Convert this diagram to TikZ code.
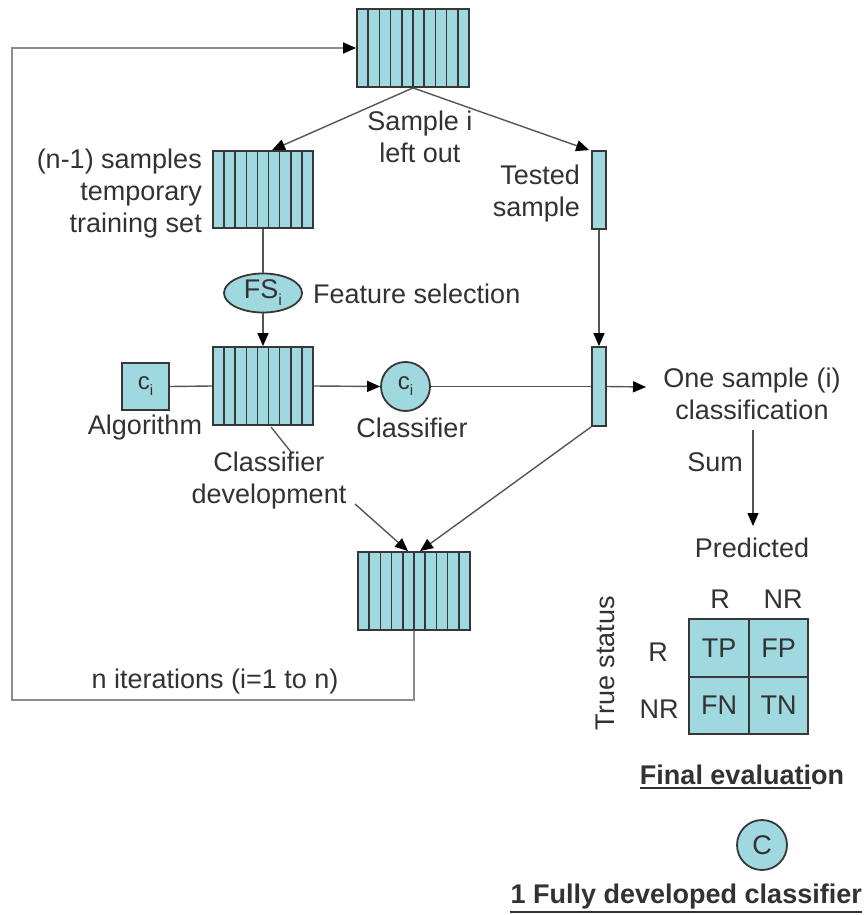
\documentclass[tikz,border=0pt]{standalone}
\usepackage{fontspec}
\setmainfont{Liberation Sans}
\usetikzlibrary{calc,arrows.meta,shapes.geometric}
\definecolor{cyanf}{RGB}{160,216,224}
\definecolor{boxc}{RGB}{55,55,55}
\definecolor{linec}{RGB}{85,85,85}
\definecolor{loopc}{RGB}{140,140,140}
\definecolor{txtc}{RGB}{50,50,50}
\newcommand{\fsz}{\fontsize{27}{32}\selectfont}
\begin{document}
\begin{tikzpicture}[x=1pt,y=-1pt,
  box/.style={draw=boxc,line width=1.8pt,fill=cyanf,inner sep=0pt,rectangle},
  stripes/.style={path picture={
    \pgfmathtruncatemacro\nm{#1-1}
    \foreach \k in {1,...,\nm}{
      \draw[boxc,line width=1.6pt]
        ($(path picture bounding box.south west)!{\k/#1}!(path picture bounding box.south east)$) --
        ($(path picture bounding box.north west)!{\k/#1}!(path picture bounding box.north east)$);}}},
  conn/.style={draw=linec,line width=1.4pt},
  tip/.style={-{Triangle[length=13pt,width=11pt,color=black]}},
  arr/.style={conn,tip},
  lbl/.style={text=txtc,font=\fsz,align=center,inner sep=0pt},
  bold/.style={lbl,font=\fsz\bfseries}]
\useasboundingbox (0,0) rectangle (863,915);

% boxes
\node[box,stripes=10,minimum width=112pt,minimum height=78pt] (top) at (413,48) {};
\node[box,stripes=9,minimum width=100pt,minimum height=77pt] (train) at (263,189.5) {};
\node[box,minimum width=14pt,minimum height=78pt] (test1) at (599,190) {};
\node[box,ellipse,minimum width=78pt,minimum height=39pt,font=\fontsize{27}{27}\selectfont,text=txtc] (fs) at (263,293) {FS\raisebox{-7pt}{\fontsize{16}{16}\selectfont i}};
\node[box,stripes=9,minimum width=100pt,minimum height=78pt] (dev) at (263,386) {};
\node[box,minimum width=47pt,minimum height=47pt,font=\fontsize{24}{24}\selectfont,text=txtc] (algo) at (145.5,386.5) {c\raisebox{-6pt}{\fontsize{15}{15}\selectfont i}};
\node[box,circle,minimum size=49pt,font=\fontsize{24}{24}\selectfont,text=txtc] (clf) at (405.5,386.5) {c\raisebox{-6pt}{\fontsize{15}{15}\selectfont i}};
\node[box,minimum width=14pt,minimum height=79pt] (test2) at (599,386.5) {};
\node[box,stripes=10,minimum width=112pt,minimum height=78pt] (bot) at (414,591) {};

% confusion matrix
\node[box,minimum width=60pt,minimum height=58pt,lbl] (tp) at (719,648) {TP};
\node[box,minimum width=59pt,minimum height=58pt,lbl] (fp) at (778.5,648) {FP};
\node[box,minimum width=60pt,minimum height=57pt,lbl] (fn) at (719,705.5) {FN};
\node[box,minimum width=59pt,minimum height=57pt,lbl] (tn) at (778.5,705.5) {TN};

\node[box,circle,minimum size=50pt,lbl] (cc) at (762,845) {C};

% coordinates
\coordinate (lb) at (12,700);
\coordinate (outc) at (646,387);
\coordinate (sumtop) at (753,430);
\coordinate (sumbot) at (753,526);
\coordinate (devl1) at (271,427);
\coordinate (devl2) at (291,452);
\coordinate (devt) at (355,504);

% connectors
\draw[conn,draw=loopc,line width=1.8pt,tip] (bot.south) |- (lb) |- (top.west);
\draw[arr] (top.south) -- ([xshift=9pt]train.north);
\draw[arr] (top.south) -- ([xshift=-2pt]test1.north west);
\draw[conn] (train.south) -- (fs.north);
\draw[arr] (fs.south) -- (dev.north);
\draw[conn] (algo.east) -- (dev.west);
\draw[arr] (dev.east) -- (clf.west);
\draw[conn] (clf.east) -- (test2.west);
\draw[arr] (test2.east) -- (outc);
\draw[arr] (test1.south) -- (test2.north);
\draw[arr] (test2.south west) -- ([xshift=6pt]bot.north);
\draw[arr] (devt) -- ([xshift=-6pt]bot.north);
\draw[conn] (devl1) -- (devl2);
\draw[arr] (sumtop) -- (sumbot);

% labels
\node[lbl] (lsample) at (420,137) {Sample i\\left out};
\node[lbl,anchor=east,align=right] (ltrain) at (202,194) {(n-1) samples\\temporary\\training set};
\node[lbl,anchor=east,align=right] (ltest) at (580,194) {Tested\\sample};
\node[lbl,anchor=west] (lfs) at (313,294) {Feature selection};
\node[lbl] (lalgo) at (145,428) {Algorithm};
\node[lbl] (lclf) at (412,428) {Classifier};
\node[lbl] (ldev) at (269,481) {Classifier\\development};
\node[lbl] (lone) at (752,394) {One sample (i)\\classification};
\node[lbl] (lsum) at (715,462) {Sum};
\node[lbl] (lpred) at (752,548) {Predicted};
\node[lbl] (lr1) at (720,599) {R};
\node[lbl] (lnr1) at (783,599) {NR};
\node[lbl] (lr2) at (658,652) {R};
\node[lbl] (lnr2) at (659,709) {NR};
\node[lbl,rotate=90] (ltrue) at (605,663) {True status};
\node[lbl] (liter) at (215,682) {n iterations (i=1 to n)};
\node[bold] (lfinal) at (742,775) {Final evaluation};
\draw[txtc,line width=1.5pt] ([yshift=-13pt]lfinal.west) -- ++(171,0);
\node[bold,anchor=east] (lfull) at (862,897) {1 Fully developed classifier};
\draw[txtc,line width=1.5pt] ([yshift=-15pt]lfull.west) -- ([yshift=-15pt]lfull.east);
\end{tikzpicture}
\end{document}
